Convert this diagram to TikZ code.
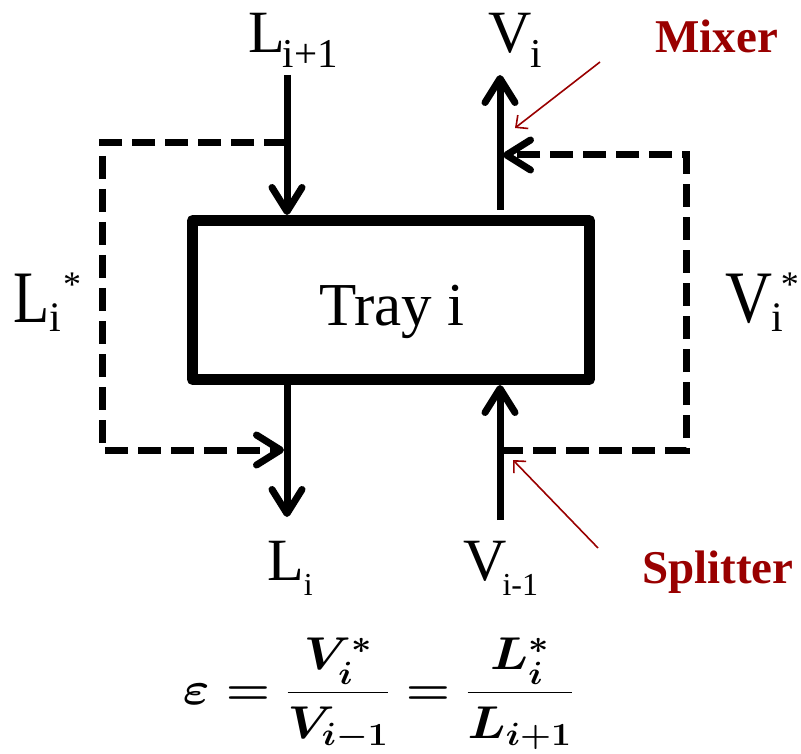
\RequirePackage{fix-cm}
\documentclass[tikz,border=0pt]{standalone}
\usepackage{fontspec}
\setmainfont{Liberation Serif}
\usetikzlibrary{arrows.meta}
\definecolor{annot}{RGB}{153,0,0}
\newcommand{\fs}[1]{\fontsize{#1}{#1}\selectfont}
\tikzset{
 flow/.style={line width=7pt, -{Straight Barb[length=24pt,width=30pt,round]}},
 bypass/.style={line width=7pt, dash pattern=on 23pt off 10pt},
 bypassarrow/.style={bypass, -{Straight Barb[length=24pt,width=30pt,round]}},
 note/.style={draw=annot, line width=1.6pt, -{Straight Barb[length=9pt,width=17pt]}},
 lbl/.style={inner sep=0pt, anchor=base west},
 notelbl/.style={inner sep=0pt, anchor=base west, text=annot, font={\bfseries\fs{47}}},
 traybox/.style={draw, line width=11pt, line join=round, minimum width=397pt, minimum height=159pt, inner sep=0pt},
}
\begin{document}
\begin{tikzpicture}[x=1pt,y=-1pt]
\useasboundingbox (0,0) rectangle (801,754);
\node[traybox] (tray) at (391,300) {};
\node[inner sep=0pt, anchor=base] (trayl) at (392,325) {\fs{61}Tray i};

\coordinate (lin) at (287,75);
\coordinate (ltip) at (287,215);
\coordinate (lsplit) at (287,143);
\coordinate (lbot) at (287,380);
\coordinate (lout) at (287,517);
\coordinate (lmix) at (284,450);
\coordinate (vout) at (500,75);
\coordinate (vtop) at (500,210);
\coordinate (vmix) at (503,155);
\coordinate (vin) at (500,520);
\coordinate (vtip) at (500,385);
\coordinate (vsplit) at (500,450);
\coordinate (lc1) at (102,143);
\coordinate (lc2) at (102,450);
\coordinate (vc1) at (686,450);
\coordinate (vc2) at (686,155);

\draw[flow] (lin) -- (ltip);
\draw[flow] (vtop) -- (vout);
\draw[flow] (lbot) -- (lout);
\draw[flow] (vin) -- (vtip);
\draw[bypassarrow] (lsplit) -- (lc1) -- (lc2) -- (lmix);
\draw[bypassarrow] (vsplit) -- (vc1) -- (vc2) -- (vmix);

\coordinate (mixfrom) at (600,62);
\coordinate (mixto) at (515,128);
\coordinate (splfrom) at (598,548);
\coordinate (splto) at (513,460);
\draw[note] (mixfrom) -- (mixto);
\draw[note] (splfrom) -- (splto);

\node[lbl] (Lip1) at (248,53) {\fs{60}L\kern-2pt\raisebox{-15pt}{\fs{41}i+1}};
\node[lbl] (Vi) at (488,53) {\fs{60}V\kern-1pt\raisebox{-15pt}{\fs{41}i}};
\node[lbl] (Li) at (267,580) {\fs{60}L\raisebox{-15pt}{\fs{32}i}};
\node[lbl] (Vim1) at (463,580) {\fs{60}V\kern-4pt\raisebox{-15pt}{\fs{32}i-1}};
\node[lbl] (Lstar) at (13,323) {\scalebox{0.8}[1]{\fs{74}L}\raisebox{-9pt}{\fs{42}i}\kern2pt\raisebox{26pt}{\fs{36}*}};
\node[lbl] (Vstar) at (725,323) {\scalebox{0.88}[1]{\fs{74}V}\kern-1pt\raisebox{-9pt}{\fs{42}i}\kern-2pt\raisebox{26pt}{\fs{36}*}};
\node[notelbl] (mix) at (655,53) {Mixer};
\node[notelbl] (spl) at (642,583) {Splitter};

\node[inner sep=0pt] (eq) at (378,694) {\scalebox{1.1}[1]{\fs{46}\boldmath$\displaystyle \varepsilon = \frac{V_i^*}{V_{i-1}} = \frac{L_i^*}{L_{i+1}}$}};
\end{tikzpicture}
\end{document}
